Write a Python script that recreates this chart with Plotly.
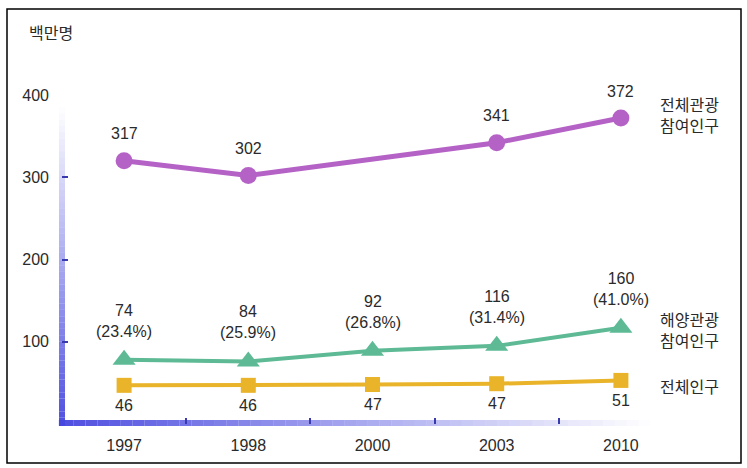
import plotly.graph_objects as go

# ---- data ----
years = ["1997", "1998", "2000", "2003", "2010"]
y_ticks = [100, 200, 300, 400]
y_tick_labels = ["100", "200", "300", "400"]

tour_total = [320, 302, None, 342, 372]          # 전체관광 참여인구 (plotted)
tour_total_labels = ["317", "302", "", "341", "372"]

marine = [78, 76, 89, 95, 117]                   # 해양관광 참여인구 (plotted)
marine_labels = ["74<br>(23.4%)", "84<br>(25.9%)", "92<br>(26.8%)",
                 "116<br>(31.4%)", "160<br>(41.0%)"]

population = [47, 47, 48, 49, 53]                # 전체인구 (plotted)
population_labels = ["46", "46", "47", "47", "51"]

series_names = ["전체관광<br>참여인구", "해양관광<br>참여인구", "전체인구"]
unit_label = "백만명"

# ---- styles ----
PURPLE = "#b562c6"
GREEN = "#5dba95"
YELLOW = "#e9b42a"
TEXT = "#2a2a2a"
FONT = "Liberation Sans, Noto Sans CJK KR, sans-serif"
x_idx = list(range(len(years)))

fig = go.Figure()
fig.add_trace(go.Scatter(x=x_idx, y=tour_total, mode="lines+markers", connectgaps=True,
                         line=dict(color=PURPLE, width=5),
                         marker=dict(symbol="circle", size=17, color=PURPLE),
                         cliponaxis=False, showlegend=False))
fig.add_trace(go.Scatter(x=x_idx, y=marine, mode="lines+markers",
                         line=dict(color=GREEN, width=4),
                         marker=dict(symbol="triangle-up", size=20, color=GREEN),
                         cliponaxis=False, showlegend=False))
fig.add_trace(go.Scatter(x=x_idx, y=population, mode="lines+markers",
                         line=dict(color=YELLOW, width=4),
                         marker=dict(symbol="square", size=15, color=YELLOW),
                         cliponaxis=False, showlegend=False))

ann = []
for i, (v, t) in enumerate(zip(tour_total, tour_total_labels)):
    if v is not None and t:
        ann.append(dict(x=i, y=v, text=t, showarrow=False, yshift=27, yanchor="middle",
                        font=dict(size=16, color=TEXT, family=FONT)))
for i, (v, t) in enumerate(zip(marine, marine_labels)):
    ann.append(dict(x=i, y=v, text=t, showarrow=False, yshift=39, yanchor="middle",
                    font=dict(size=16, color=TEXT, family=FONT)))
for i, (v, t) in enumerate(zip(population, population_labels)):
    ann.append(dict(x=i, y=v, text=t, showarrow=False, yshift=-20, yanchor="middle",
                    font=dict(size=16, color=TEXT, family=FONT)))

# right-side series names anchored to last points
last_vals = [tour_total[-1], marine[-1], population[-1]]
name_shifts = [2, -3, -7]
for name, v, s in zip(series_names, last_vals, name_shifts):
    ann.append(dict(x=x_idx[-1], y=v, text=name, showarrow=False, xanchor="left",
                    xshift=37, yshift=s, yanchor="middle", align="left",
                    font=dict(size=16, color=TEXT, family=FONT)))

ann.append(dict(xref="paper", yref="paper", x=0, y=1, xshift=-35, yshift=62,
                xanchor="left", yanchor="middle", text=unit_label, showarrow=False,
                font=dict(size=16, color=TEXT, family=FONT)))

# gradient axis bars
shapes = []
N = 50
top_frac = 0.9635
for k in range(N):
    a = k / N
    b = (k + 1) / N
    alpha = max(0.0, 0.95 * (1 - (a + b) / 2))
    shapes.append(dict(type="rect", xref="paper", yref="paper", xsizemode="pixel",
                       xanchor=0, x0=-3, x1=3,
                       y0=a * top_frac if k else -0.006, y1=b * top_frac,
                       line=dict(width=0), fillcolor=f"rgba(70,70,222,{alpha:.3f})",
                       layer="below"))
right_frac = 0.947
for k in range(N):
    a = k / N
    b = (k + 1) / N
    alpha = max(0.0, 0.95 * (1 - (a + b) / 2))
    shapes.append(dict(type="rect", xref="paper", yref="paper", ysizemode="pixel",
                       yanchor=0, y0=-2, y1=4,
                       x0=a * right_frac if k else -0.005, x1=b * right_frac,
                       line=dict(width=0), fillcolor=f"rgba(70,70,222,{alpha:.3f})",
                       layer="below"))
# outer frame
shapes.append(dict(type="rect", xref="paper", yref="paper", xsizemode="pixel",
                   ysizemode="pixel", xanchor=0, yanchor=0, x0=-55, x1=679, y0=-39, y1=415,
                   line=dict(color="black", width=1.5), fillcolor="rgba(0,0,0,0)"))

fig.update_layout(
    width=747, height=468,
    margin=dict(l=62, r=64, t=95, b=44),
    paper_bgcolor="white", plot_bgcolor="white",
    font=dict(family=FONT, size=16, color=TEXT),
    annotations=ann, shapes=shapes, showlegend=False,
    xaxis=dict(range=[-0.5, 4.5], tickvals=x_idx, ticktext=years, showgrid=False,
               zeroline=False, showline=False, ticks="", ticklabelstandoff=10,
               tickfont=dict(size=16, color=TEXT),
               minor=dict(tickvals=[0.5, 1.5, 2.5, 3.5], ticks="inside", ticklen=6,
                          tickwidth=2, tickcolor="#3a3ab0", showgrid=False)),
    yaxis=dict(range=[0, 400], tickvals=y_ticks, ticktext=y_tick_labels, showgrid=False,
               zeroline=False, showline=False, ticks="", ticklabelstandoff=12,
               tickfont=dict(size=16, color=TEXT),
               minor=dict(tickvals=[100, 200, 300], ticks="inside", ticklen=6,
                          tickwidth=2, tickcolor="#3a3ab0", showgrid=False)),
)

fig.write_html("out.html", config={"displayModeBar": False},
               post_script="document.body.style.margin='0';document.body.style.overflow='hidden';")
